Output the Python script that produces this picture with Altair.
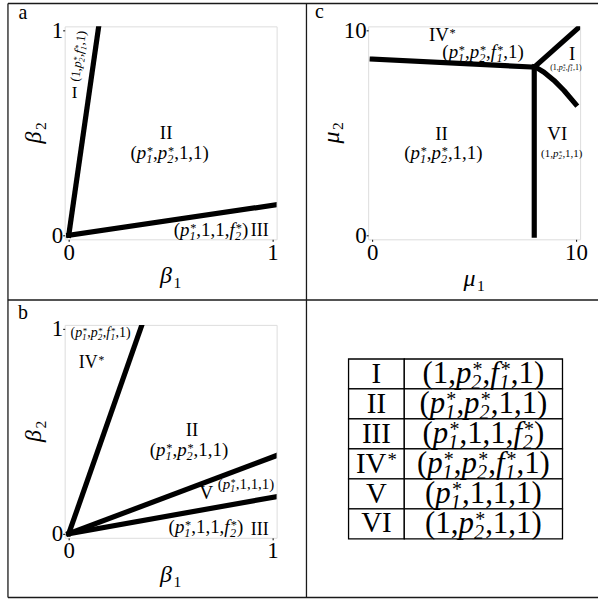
import math
import altair as alt
import pandas as pd

SERIF = "Liberation Serif"

# ---------------- boundary curves ----------------
# panel a  (beta1, beta2)
a_I_b1 = [0.0, 0.147]
a_I_b2 = [0.0, 1.02]
a_III_b1 = [0.0, 1.02]
a_III_b2 = [0.0, 0.149]

# panel b  (beta1, beta2)
b_IV_b1 = [0.0, 0.359]
b_IV_b2 = [0.0, 1.02]
b_V_b1 = [0.0, 1.02]
b_V_b2 = [0.0, 0.382]
b_III_b1 = [0.0, 1.02]
b_III_b2 = [0.0, 0.181]

# panel c  (mu1, mu2)
c_top_m1 = [0.0, 7.95]
c_top_m2 = [8.6, 8.21]
c_vert_m1 = [7.95, 7.95]
c_vert_m2 = [0.0, 8.21]
c_diag_m1 = [7.95, 10.2]
c_diag_m2 = [8.21, 10.2]
c_curve_m1 = [7.95, 8.1, 8.43, 8.92, 9.41, 9.98]
c_curve_m2 = [8.21, 8.16, 7.96, 7.56, 7.07, 6.4]

# ---------------- region labels ----------------
a_lab_x = [0.029, 0.478, 0.495, 0.698, 0.937, 0.048]
a_lab_y = [0.694, 0.50, 0.40, 0.022, 0.022, 0.874]
a_lab_text = ["I", "II", "(p^*_1,p^*_2,1,1)", "(p^*_1,1,1,f^*_2)", "III", "(1,p^*_2,f^*_1,1)"]

b_lab_x = [0.156, 0.112, 0.605, 0.59, 0.675, 0.87, 0.673, 0.937]
b_lab_y = [0.981, 0.835, 0.505, 0.408, 0.199, 0.238, 0.029, 0.019]
b_lab_text = ["(p^*_1,p^*_2,f^*_1,1)", "IV^*", "II", "(p^*_1,p^*_2,1,1)", "V",
              "(p^*_1,1,1,1)", "(p^*_1,1,1,f^*_2)", "III"]

c_lab_x = [3.44, 5.44, 3.4, 3.49, 9.08, 9.3, 9.81, 9.5]
c_lab_y = [9.76, 8.94, 4.95, 3.98, 4.95, 3.98, 8.84, 8.2]
c_lab_text = ["IV^*", "(p^*_1,p^*_2,f^*_1,1)", "II", "(p^*_1,p^*_2,1,1)", "VI",
              "(1,p^*_2,1,1)", "I", "(1,p^*_2,f^*_1,1)"]

# ---------------- legend table ----------------
table_regions = ["I", "II", "III", "IV^*", "V", "VI"]
table_states = ["(1,p^*_2,f^*_1,1)", "(p^*_1,p^*_2,1,1)", "(p^*_1,1,1,f^*_2)",
                "(p^*_1,p^*_2,f^*_1,1)", "(p^*_1,1,1,1)", "(1,p^*_2,1,1)"]

# ---------------- typesetting styles ----------------
a_lab_size = [17, 19, 19, 19, 18, 13]
a_lab_angle = [0, 0, 0, 0, 0, 278]
b_lab_size = [14, 18, 19, 19, 19, 15, 19, 18]
c_lab_size = [19, 19, 19, 19, 19, 11, 19, 8]

PW, PH = 213, 214  # plot frame size of every panel

ITALIC = set("pfβμ")
WIDTH = {"(": .333, ")": .333, ",": .25, "*": .5, "I": .333, "V": .722,
         "p": .5, "f": .30, "β": .56, "μ": .56}
SCRIPT = 0.65


def glyph_w(c):
    return WIDTH.get(c, 0.5)


def parse(markup):
    items = []
    i = 0
    while i < len(markup):
        ch = markup[i]
        if ch in "^_" and items:
            items[-1]["sup" if ch == "^" else "sub"] = markup[i + 1]
            i += 2
            continue
        items.append({"base": ch, "sup": None, "sub": None})
        i += 1
    return items


def set_text(markup, x, y, size, kx, ky, angle=0, ox=0.0, oy=0.0, sub_italic=True):
    """Lay out a small math expression glyph by glyph around the anchor (x, y).

    kx, ky convert a pixel shift into data units of the panel's linear scales.
    """
    pieces = []
    u = 0.0
    for it in parse(markup):
        b = it["base"]
        pieces.append((u, 0.0, b, size, "italic" if b in ITALIC else "normal"))
        u += glyph_w(b) * size
        if it["sup"] or it["sub"]:
            ss = SCRIPT * size
            sw = 0.0
            if it["sup"]:
                pieces.append((u + 0.04 * size, -0.22 * size, it["sup"], ss, "normal"))
                sw = max(sw, glyph_w(it["sup"]) * ss + 0.04 * size)
            if it["sub"]:
                pieces.append((u, 0.2 * size, it["sub"], ss,
                               "italic" if sub_italic else "normal"))
                sw = max(sw, glyph_w(it["sub"]) * ss)
            u += sw
    th = math.radians(angle)
    cs, sn = math.cos(th), math.sin(th)
    rows = []
    for pu, pv, t, fs, st in pieces:
        uu = pu - u / 2
        vv = pv + 0.3 * size
        dx = ox + uu * cs - vv * sn
        dy = oy + uu * sn + vv * cs
        rows.append(dict(x=x + dx * kx, y=y - dy * ky, txt=t, fs=fs, ang=angle, style=st))
    return rows


def lines_df(segments):
    rows = []
    for k, (xs, ys) in enumerate(segments):
        for j, (xv, yv) in enumerate(zip(xs, ys)):
            rows.append(dict(seg=k, ord=j, x=xv, y=yv))
    return pd.DataFrame(rows)


def make_axis(vals):
    return alt.Axis(values=vals, format="d", title=None, grid=False, domain=False,
                    tickSize=2, tickColor="black", tickWidth=1, labelFont=SERIF,
                    labelFontSize=23, labelColor="black", labelPadding=0,
                    labelFlush=False, labelOverlap=False)


def glyph_layers(g, X, Y):
    out = []
    for st in ["normal", "italic"]:
        out.append(
            alt.Chart(g[g["style"] == st]).mark_text(
                align="left", baseline="alphabetic", font=SERIF, fontStyle=st, color="black"
            ).encode(
                x=X, y=Y, text="txt:N",
                size=alt.Size("fs:Q", scale=None),
                angle=alt.Angle("ang:Q", scale=None),
            )
        )
    return out


def panel(segments, glyph_rows, lo, hi, ticks, extra=None):
    xs = alt.Scale(domain=[lo, hi], nice=False, zero=False)
    ys = alt.Scale(domain=[lo, hi], nice=False, zero=False)
    X = alt.X("x:Q", scale=xs, axis=make_axis(ticks))
    Y = alt.Y("y:Q", scale=ys, axis=make_axis(ticks))
    lines = alt.Chart(lines_df(segments)).mark_line(
        color="black", strokeWidth=5.2, clip=True, strokeCap="square", strokeJoin="round"
    ).encode(x=X, y=Y, detail="seg:N", order="ord:Q")
    layers = [lines] + glyph_layers(pd.DataFrame(glyph_rows), X, Y)
    if extra:
        layers += extra
    return alt.layer(*layers).properties(width=PW, height=PH)


one = pd.DataFrame({"k": [0]})


def letter(ch, px, py):
    return alt.Chart(one).mark_text(font=SERIF, fontSize=20, color="black",
                                    align="center", baseline="middle", text=ch).encode(
        x=alt.value(px), y=alt.value(py))


def rule(x1, x2, y1, y2):
    return alt.Chart(one).mark_rule(color="#1a1a1a", strokeWidth=1.3).encode(
        x=alt.value(x1), x2=alt.value(x2), y=alt.value(y1), y2=alt.value(y2))


# ---- panel a ----
kx1, ky1 = 1.04 / PW, 1.04 / PH
rows_a = []
for i, t in enumerate(a_lab_text):
    rows_a += set_text(t, a_lab_x[i], a_lab_y[i], a_lab_size[i], kx1, ky1,
                       angle=a_lab_angle[i])
rows_a += set_text("β_1", 0.5, -0.02, 24, kx1, ky1, oy=37, sub_italic=False)
rows_a += set_text("β_2", -0.02, 0.5, 24, kx1, ky1, angle=270, ox=-31, sub_italic=False)
# cell borders of the figure grid, drawn relative to panel a
borders = [
    rule(-57, -57, -23, 574), rule(243, 243, -23, 574),
    rule(-57, 536, -23, -23), rule(-57, 536, 275, 275), rule(-57, 536, 574, 574),
]
pa = panel([(a_I_b1, a_I_b2), (a_III_b1, a_III_b2)], rows_a, -0.02, 1.02, [0, 1],
           extra=borders + [letter("a", -42, -13)])

# ---- panel b ----
rows_b = []
for i, t in enumerate(b_lab_text):
    rows_b += set_text(t, b_lab_x[i], b_lab_y[i], b_lab_size[i], kx1, ky1)
rows_b += set_text("β_1", 0.5, -0.02, 24, kx1, ky1, oy=37, sub_italic=False)
rows_b += set_text("β_2", -0.02, 0.5, 24, kx1, ky1, angle=270, ox=-31, sub_italic=False)
pb = panel([(b_IV_b1, b_IV_b2), (b_V_b1, b_V_b2), (b_III_b1, b_III_b2)], rows_b,
           -0.02, 1.02, [0, 1], extra=[letter("b", -42, -12)])

# ---- panel c ----
kx10, ky10 = 10.4 / PW, 10.4 / PH
rows_c = []
for i, t in enumerate(c_lab_text):
    rows_c += set_text(t, c_lab_x[i], c_lab_y[i], c_lab_size[i], kx10, ky10)
rows_c += set_text("μ_1", 5.0, -0.2, 24, kx10, ky10, oy=40, sub_italic=False)
rows_c += set_text("μ_2", -0.2, 5.0, 24, kx10, ky10, angle=270, ox=-37, sub_italic=False)
pc = panel([(c_top_m1, c_top_m2), (c_vert_m1, c_vert_m2), (c_diag_m1, c_diag_m2),
            (c_curve_m1, c_curve_m2)], rows_c, -0.2, 10.2, [0, 10],
           extra=[letter("c", -49, -14)])

# ---- legend table ----
col_edges = [0, 56, 215]
TY0, TY1 = 34.3, 215.0
tx = alt.Scale(domain=[0, 215], range=[-19.7, 195.3])
ty = alt.Scale(domain=[0, 6], range=[TY0, TY1])
cells = []
for i in range(len(table_regions)):
    for j in range(2):
        cells.append(dict(x=col_edges[j], x2=col_edges[j + 1], y=i, y2=i + 1))
cells = pd.DataFrame(cells)
TX = alt.X("x:Q", scale=tx, axis=None)
TYe = alt.Y("y:Q", scale=ty, axis=None)
grid = alt.Chart(cells).mark_rect(fill="white", stroke="black", strokeWidth=1.3).encode(
    x=TX, x2="x2:Q", y=TYe, y2="y2:Q")
kt_x, kt_y = 1.0, -6 / (TY1 - TY0)  # table rows run downward
trows = []
for i in range(len(table_regions)):
    trows += set_text(table_regions[i], (col_edges[0] + col_edges[1]) / 2, i + 0.5, 29,
                      kt_x, kt_y)
    trows += set_text(table_states[i], (col_edges[1] + col_edges[2]) / 2, i + 0.5, 31,
                      kt_x, kt_y)
ptab = alt.layer(grid, *glyph_layers(pd.DataFrame(trows), TX, TYe)).properties(
    width=PW, height=PH, view=alt.ViewBackground(stroke="transparent"))

chart = alt.concat(
    pa, pc, pb, ptab, columns=2, bounds="flush",
    spacing=alt.RowColnumber(row=86, column=92),
    padding={"left": 6, "top": 0, "right": 0, "bottom": 0},
).configure_view(stroke="#222", strokeWidth=1).configure(background="white")

chart.save("out.html", embed_options={"renderer": "svg", "actions": False})
